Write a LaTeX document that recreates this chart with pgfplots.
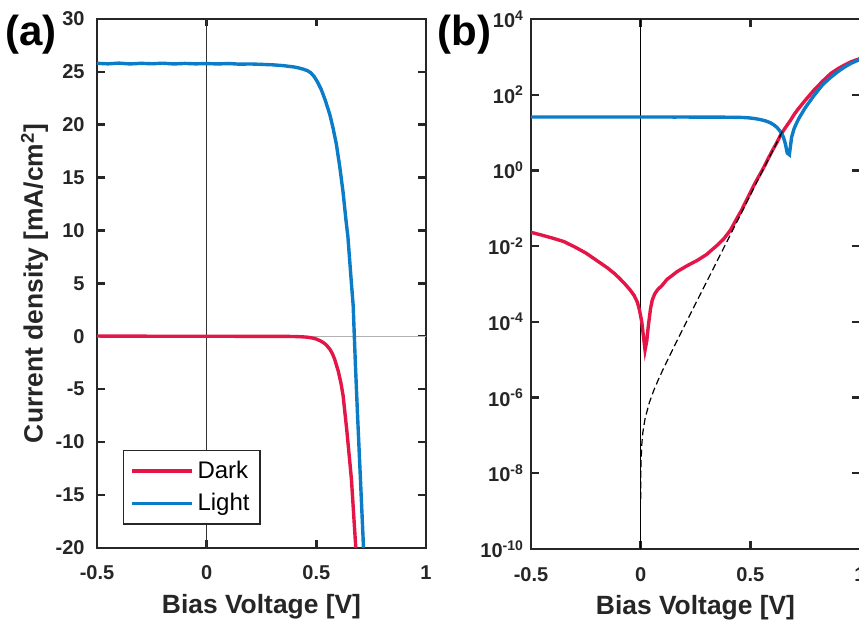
\documentclass[border=0pt]{standalone}
\usepackage{fontspec}
\setmainfont{Liberation Sans}
\usepackage{pgfplots}
\pgfplotsset{compat=1.18}
\usepackage{pgfplotstable}

\definecolor{darkred}{RGB}{228,22,72}
\definecolor{lightblue}{RGB}{10,124,200}
\definecolor{axgray}{RGB}{38,38,38}

% dark J-V (mA/cm^2), sign as in panel (a)
\pgfplotstableread{
V J
-0.50 0.0232
-0.45 0.0195
-0.40 0.0162
-0.35 0.0132
-0.30 0.0095
-0.25 0.0066
-0.20 0.00417
-0.15 0.00263
-0.12 0.0019
-0.10 0.00148
-0.075 0.00105
-0.05 0.00072
-0.03 0.00050
-0.015 0.00033
-0.005 0.00020
0.005 0.00010
0.012 0.000045
0.020 0.000018
0.028 -0.000032
0.035 -0.000079
0.045 -0.000224
0.053 -0.00038
0.065 -0.00056
0.080 -0.00074
0.095 -0.00088
0.12 -0.00132
0.167 -0.00214
0.21 -0.0030
0.26 -0.00427
0.30 -0.0060
0.35 -0.0107
0.38 -0.0158
0.41 -0.0269
0.44 -0.056
0.46 -0.089
0.483 -0.166
0.50 -0.26
0.52 -0.447
0.535 -0.64
0.546 -0.83
0.563 -1.26
0.574 -1.68
0.584 -2.2
0.60 -3.3
0.612 -4.4
0.622 -5.6
0.639 -8.9
0.66 -13.5
0.683 -21
0.70 -30.2
0.715 -39.8
0.75 -70.8
0.79 -132
0.83 -229
0.867 -365
0.90 -490
0.93 -610
0.96 -745
1.00 -900
}\darkdata

% illuminated J-V
\pgfplotstableread{
V J
-0.50 25.80
-0.45 25.75
-0.40 25.82
-0.35 25.74
-0.30 25.80
-0.25 25.76
-0.20 25.81
-0.15 25.74
-0.10 25.79
-0.05 25.75
0.00 25.78
0.05 25.74
0.10 25.78
0.15 25.72
0.20 25.74
0.25 25.70
0.30 25.66
0.35 25.58
0.40 25.45
0.42 25.36
0.44 25.25
0.46 25.10
0.475 24.90
0.49 24.55
0.505 24.05
0.523 23.3
0.54 22.35
0.561 21.0
0.575 19.8
0.591 18.2
0.607 16.0
0.622 13.6
0.635 11.0
0.644 9.4
0.652 7.2
0.660 5.0
0.668 2.9
0.678 -2.6
0.688 -7.5
0.700 -13.0
0.713 -19
0.72 -23
0.75 -45
0.79 -95
0.83 -185
0.867 -290
0.90 -410
0.93 -540
0.96 -680
1.00 -860
}\lightdata

% ideal diode (dashed)
\pgfplotstableread{
V J
0.0002 2.1e-9
0.0005 5.3e-9
0.001 1.07e-8
0.002 2.17e-8
0.005 5.66e-8
0.01 1.21e-7
0.02 2.79e-7
0.04 7.52e-7
0.06 1.56e-6
0.08 2.92e-6
0.10 5.24e-6
0.15 2.08e-5
0.20 7.9e-5
0.25 3.0e-4
0.30 1.12e-3
0.35 4.2e-3
0.40 1.58e-2
0.45 5.9e-2
0.50 0.223
0.55 0.84
0.60 3.14
0.65 11.8
}\idealdata

\pgfplotsset{
  jvstyle/.style={
    scale only axis,
    width=164.5pt,
    xmin=-0.5, xmax=1,
    xtick={-0.5,0,0.5,1},
    xticklabels={-0.5,0,0.5,1},
    axis line style={axgray, line width=1.2pt},
    tick style={axgray, line width=1.2pt},
    major tick length=3.8pt,
    tick align=inside,
    tick label style={font=\bfseries\fontsize{10}{12}\selectfont, text=axgray},
    xticklabel style={anchor=base, yshift=-16pt},
    label style={font=\bfseries\fontsize{13.2}{15}\selectfont, text=axgray},
    xlabel={Bias Voltage [V]},
    xlabel style={at={(axis description cs:0.5,-0.1115)}, anchor=center},
  },
}

\begin{document}
\begin{tikzpicture}
\useasboundingbox (0,0) rectangle (429.5pt,-311.5pt);
\clip (0,0) rectangle (429.5pt,-311.5pt);

\begin{axis}[jvstyle,
  at={(48.5pt,-9.5pt)}, anchor=north west,
  height=264.5pt,
  ymin=-20, ymax=30,
  ytick={-20,-15,-10,-5,0,5,10,15,20,25,30},
  yticklabels={-20,-15,-10,-5,0,5,10,15,20,25,30},
  yticklabel style={anchor=east, xshift=-2.7pt},
  ylabel={Current density [mA/cm\textsuperscript{2}]},
  ylabel style={at={(axis description cs:-0.19,0.5)}, anchor=center, rotate=0},
  legend style={at={(0.079,0.0435)}, anchor=south west, draw=axgray,
    line width=0.75pt, font=\fontsize{12}{14}\selectfont,
    inner xsep=3.5pt, inner ysep=3.6pt, row sep=2.5pt,
    nodes={inner sep=1.7pt}},
  legend cell align=left,
  legend image code/.code={\draw[#1] (0pt,0pt) -- (30pt,0pt);},
]
\addplot[forget plot, gray!60, line width=0.5pt] coordinates {(-0.5,0) (1,0)};
\addplot[forget plot, black!80, line width=0.6pt] coordinates {(0,-20) (0,30)};
\addplot[darkred, line width=1.7pt] table[x=V, y=J] {\darkdata};
\addplot[lightblue, line width=1.7pt] table[x=V, y=J] {\lightdata};
\legend{Dark, Light}
\end{axis}

\begin{axis}[jvstyle,
  at={(265.5pt,-9.5pt)}, anchor=north west,
  height=265pt,
  ymode=log,
  ymin=1e-10, ymax=1e4,
  ytick={1e-10,1e-8,1e-6,1e-4,1e-2,1,1e2,1e4},
  yticklabels={10\textsuperscript{-10},10\textsuperscript{-8},10\textsuperscript{-6},10\textsuperscript{-4},10\textsuperscript{-2},10\textsuperscript{0},10\textsuperscript{2},10\textsuperscript{4}},
  yminorticks=false,
  yticklabel style={anchor=east},
]
\addplot[black, line width=0.6pt] coordinates {(0,1e-10) (0,1e4)};
\addplot[darkred, line width=1.7pt] table[x=V, y expr=abs(\thisrow{J})] {\darkdata};
\addplot[lightblue, line width=1.7pt] table[x=V, y expr=abs(\thisrow{J})] {\lightdata};
\addplot[black, line width=0.6pt, dash pattern=on 3.5pt off 1.8pt] table[x=V, y=J] {\idealdata};
\end{axis}

\node[anchor=west, inner sep=0pt, font=\bfseries\fontsize{21}{25}\selectfont] at (2.5pt,-17.5pt) {(a)};
\node[anchor=west, inner sep=0pt, font=\bfseries\fontsize{21}{25}\selectfont] at (218.5pt,-17.5pt) {(b)};
\end{tikzpicture}
\end{document}
